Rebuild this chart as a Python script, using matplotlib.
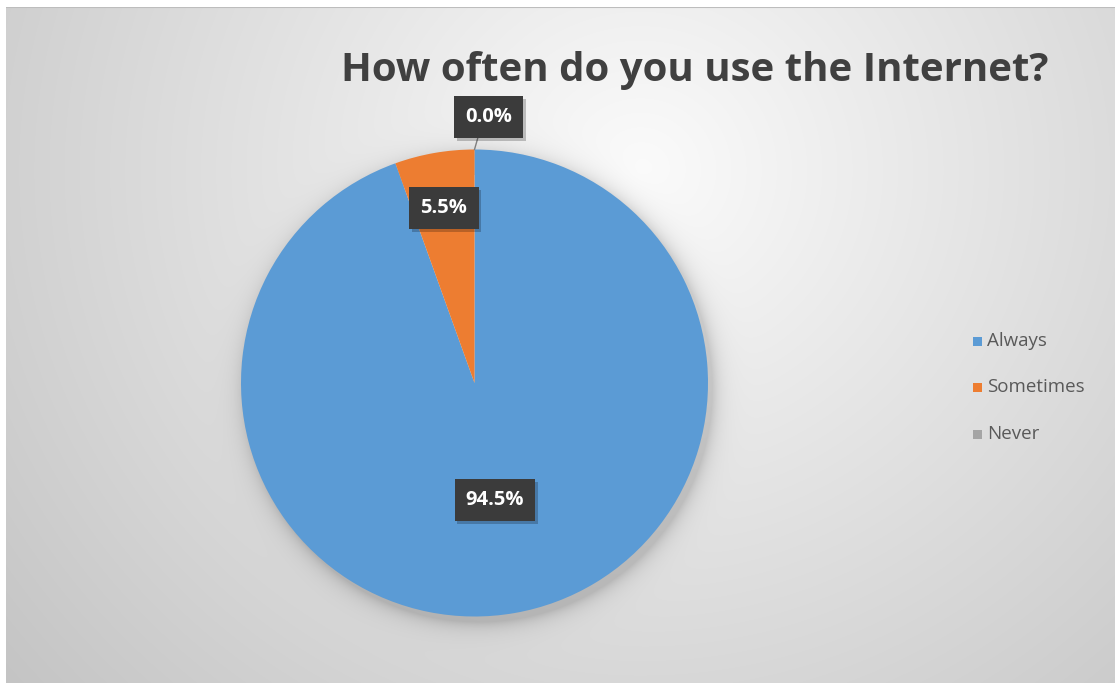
import numpy as np
import matplotlib.pyplot as plt
from matplotlib import patheffects

TITLE = "How often do you use the Internet?"
CATEGORIES = ["Always", "Sometimes", "Never"]
SHARES = [94.5, 5.5, 0.0]
COLORS = ["#5B9BD5", "#ED7D31", "#A5A5A5"]
# radial position of each data label, as a fraction of the pie radius
LABEL_RADII = [0.51, 0.76, 1.14]

W, H = 1115, 683
fig = plt.figure(figsize=(W / 100, H / 100), dpi=100)
fig.patch.set_facecolor("white")

# chart area background: soft radial gradient with the pie's drop shadow baked in
x0, y0 = 6, 7
bg_ax = fig.add_axes([x0 / W, 0, (W - x0) / W, (H - y0) / H])
yy, xx = np.mgrid[y0:H, x0:W].astype(float)
d = np.hypot(xx - 640, (yy - 170) * 1.05)
shade = 251 - 0.066 * d
cx, cy, r = 474.5, 383.0, 233.5
ds = np.hypot(xx - (cx + 4), yy - (cy + 5)) - r
shade -= 38 * np.exp(-np.clip(ds, 0, None) / 9.0) * (ds > -20)
shade = np.clip(shade, 0, 255) / 255.0
bg_ax.imshow(np.dstack([shade] * 3), extent=[0, 1, 0, 1], aspect="auto", origin="upper")
bg_ax.axhline(1.0, color="#bdbdbd", lw=1.5)
bg_ax.set_axis_off()

# pie
ax = fig.add_axes([(cx - r) / W, (H - cy - r) / H, 2 * r / W, 2 * r / H])
wedges, _ = ax.pie(SHARES, colors=COLORS, startangle=90, counterclock=False,
                   radius=1.0, wedgeprops=dict(linewidth=0))
ax.set_xlim(-1, 1)
ax.set_ylim(-1, 1)
ax.set_aspect("equal")
ax.set_axis_off()

shadow = [patheffects.withSimplePatchShadow(offset=(2, -2), shadow_rgbFace="black", alpha=0.22)]
for w, val, rad in zip(wedges, SHARES, LABEL_RADII):
    ang = np.deg2rad((w.theta1 + w.theta2) / 2)
    lx, ly = rad * np.cos(ang), rad * np.sin(ang)
    if val == 0:
        lx += 0.06
        ax.plot([0.0, 0.02], [1.0, 1.07], color="#7f7f7f", lw=1, clip_on=False)
    t = ax.text(lx, ly, f"{val:.1f}%", ha="center", va="center", color="white",
                fontsize=14.5, fontweight="bold", family="Open Sans",
                bbox=dict(boxstyle="square,pad=0.55", fc="#3b3b3b", ec="none"),
                clip_on=False)
    t.get_bbox_patch().set_path_effects(shadow)

fig.text(695 / W, 1 - 70 / H, TITLE, ha="center", va="center", fontsize=29,
         fontweight="bold", color="#404040", family="Open Sans")

# legend
for i, (name, col) in enumerate(zip(CATEGORIES, COLORS)):
    ty = 1 - (341 + i * 46.5) / H
    fig.patches.append(plt.Rectangle((973 / W, ty - 4.5 / H), 9 / W, 9 / H,
                                     transform=fig.transFigure, fc=col, ec="none"))
    fig.text(987 / W, ty, name, ha="left", va="center", fontsize=13.5,
             color="#595959", family="Open Sans")

fig.savefig("out.png", dpi=100)
